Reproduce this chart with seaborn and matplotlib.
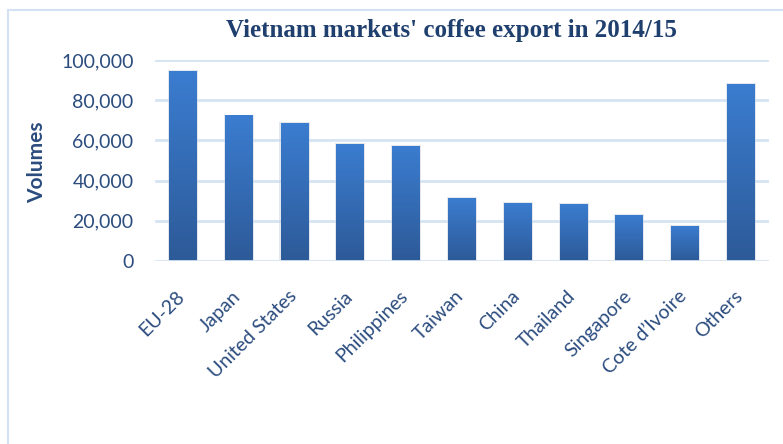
import numpy as np
import pandas as pd
import matplotlib
matplotlib.use("Agg")
import matplotlib.pyplot as plt
import matplotlib.transforms as mtransforms
import seaborn as sns
from matplotlib.patches import Rectangle
from matplotlib.colors import LinearSegmentedColormap
from matplotlib.ticker import FuncFormatter

markets = ["EU-28", "Japan", "United States", "Russia", "Philippines", "Taiwan",
           "China", "Thailand", "Singapore", "Cote d\u2019Ivoire", "Others"]
volumes = [94500, 72400, 68600, 58300, 57400, 31400, 29000, 28400, 23000, 17500, 88200]
yticks = [0, 20000, 40000, 60000, 80000, 100000]

df = pd.DataFrame({"market": markets, "volume": volumes})

sns.set_theme(style="white")
plt.rcParams["font.family"] = ["Lato", "DejaVu Sans"]

text_col = "#2b4c7e"
grid_col = "#d5e3f3"

fig = plt.figure(figsize=(7.83, 4.44), dpi=100)
ax = fig.add_axes([0.198, 0.412, 0.784, 0.453])

sns.barplot(data=df, x="market", y="volume", ax=ax, color="#3a75c0",
            width=0.5, saturation=1, zorder=3)

# gradient fill on each bar
cmap = LinearSegmentedColormap.from_list("g", ["#2d5a98", "#3b7dd0"])
grad = np.linspace(0, 1, 256).reshape(-1, 1)
for p in ax.patches:
    x0, y0 = p.get_x(), p.get_y()
    w, h = p.get_width(), p.get_height()
    sh = Rectangle((x0 - 0.02, y0), w + 0.04, h + 400, facecolor="#c9d3e0",
                   edgecolor="none", alpha=0.5, zorder=2)
    ax.add_patch(sh)
    im = ax.imshow(grad, extent=[x0, x0 + w, y0, y0 + h], origin="lower",
                   cmap=cmap, aspect="auto", zorder=4)
    im.set_clip_path(p)
    p.set_facecolor("none")
    p.set_edgecolor("none")

ax.set_xlim(-0.5, len(markets) - 0.5)
ax.set_ylim(0, 100000)
ax.set_yticks(yticks)
ax.yaxis.set_major_formatter(FuncFormatter(lambda v, _: f"{int(v):,}"))
for yv in yticks:
    ax.axhline(yv, color=grid_col, lw=2, zorder=1 if yv > 0 else 5)

for s in ax.spines.values():
    s.set_visible(False)
ax.tick_params(axis="both", length=0)
ax.tick_params(axis="y", labelsize=14, labelcolor=text_col, pad=15.5)
ax.tick_params(axis="x", labelsize=14, labelcolor=text_col, pad=19)
offset = mtransforms.ScaledTranslation(-7 / 100, 0, fig.dpi_scale_trans)
for lab in ax.get_xticklabels():
    lab.set_rotation(45)
    lab.set_ha("right")
    lab.set_rotation_mode("anchor")
    lab.set_transform(lab.get_transform() + offset)
ax.set_xlabel("")
ax.set_ylabel("Volumes", fontsize=15, fontweight="bold", color=text_col)
ax.yaxis.set_label_coords(-0.176, 0.49)

fig.text(0.576, 0.932, "Vietnam markets' coffee export in 2014/15",
         ha="center", va="center", fontsize=18, fontweight="bold",
         color="#1f3f6e", family="Liberation Serif")

frame = Rectangle((8 / 783, -0.1), 1.2, (434 / 444) + 0.1, transform=fig.transFigure,
                  fill=False, edgecolor="#d3e1f2", lw=1.5)
fig.patches.append(frame)

fig.savefig("out.png", dpi=100)
